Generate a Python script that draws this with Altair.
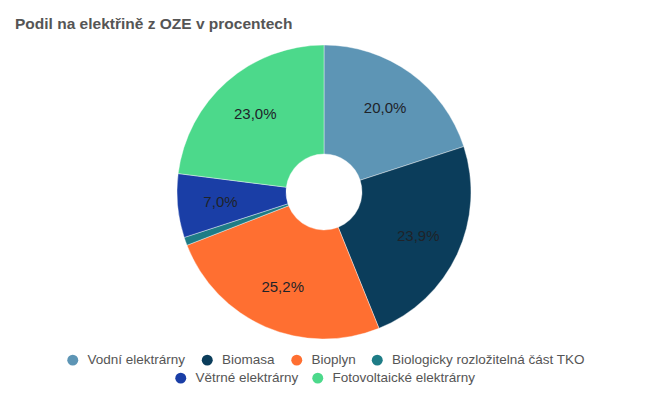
import altair as alt
import pandas as pd

categories = [
    "Vodní elektrárny",
    "Biomasa",
    "Bioplyn",
    "Biologicky rozložitelná část TKO",
    "Větrné elektrárny",
    "Fotovoltaické elektrárny",
]
values = [20.0, 23.9, 25.2, 0.9, 7.0, 23.0]
colors = ["#5D95B5", "#0B3D5B", "#FF6F31", "#1E7C86", "#1A3EA6", "#4CD98B"]
row1 = categories[:4]
row2 = categories[4:]

df = pd.DataFrame({"kategorie": categories, "podil": values, "poradi": list(range(len(categories)))})

FONT = "Liberation Sans"
W, H = 634, 383
CX, CY = 316, 184

base = alt.Chart(df).encode(
    theta=alt.Theta("podil:Q", stack=True, scale=alt.Scale(domain=[0, 100])),
    order=alt.Order("poradi:Q", sort="ascending"),
)

arcs = base.mark_arc(outerRadius=147, innerRadius=38, stroke="white", strokeWidth=0.4).encode(
    x=alt.value(CX),
    y=alt.value(CY),
    color=alt.Color("kategorie:N", scale=alt.Scale(domain=categories, range=colors), legend=None),
)

labels = base.transform_calculate(
    popisek="datum.podil >= 1 ? replace(format(datum.podil, '.1f'), '.', ',') + '%' : ''"
).mark_text(radius=104, font=FONT, fontSize=15, color="#1f2329").encode(
    x=alt.value(CX),
    y=alt.value(CY),
    text="popisek:N",
)


def legend_layer(items, cols, lx, ly, gap):
    return alt.Chart(df).transform_filter(
        alt.FieldOneOfPredicate(field="kategorie", oneOf=items)
    ).mark_point(filled=True, opacity=0).encode(
        x=alt.value(CX),
        y=alt.value(CY),
        color=alt.Color(
            "kategorie:N",
            sort=items,
            scale=alt.Scale(domain=items, range=cols),
            legend=alt.Legend(
                orient="none",
                legendX=lx,
                legendY=ly,
                direction="horizontal",
                title=None,
                symbolType="circle",
                symbolSize=120,
                symbolOpacity=1,
                symbolStrokeWidth=0,
                labelFont=FONT,
                labelFontSize=13.5,
                labelColor="#555555",
                labelOffset=8,
                labelLimit=400,
                columnPadding=gap,
                padding=0,
            ),
        ),
    )


leg1 = legend_layer(row1, colors[:4], 58, 345, 14.5)
leg2 = legend_layer(row2, colors[4:], 166, 363, 12)

chart = alt.layer(arcs, labels, leg1, leg2).resolve_scale(color="independent").properties(
    width=W,
    height=H,
    autosize=alt.AutoSizeParams(type="none"),
    padding=0,
    background="white",
    title=alt.TitleParams(
        "Podil na elektřině z OZE v procentech",
        anchor="start",
        frame="group",
        font=FONT,
        fontSize=15.5,
        fontWeight="bold",
        color="#555555",
        dx=7,
        dy=28,
    ),
).configure_view(stroke=None)

chart.save("out.html", embed_options={"renderer": "svg", "actions": False})
